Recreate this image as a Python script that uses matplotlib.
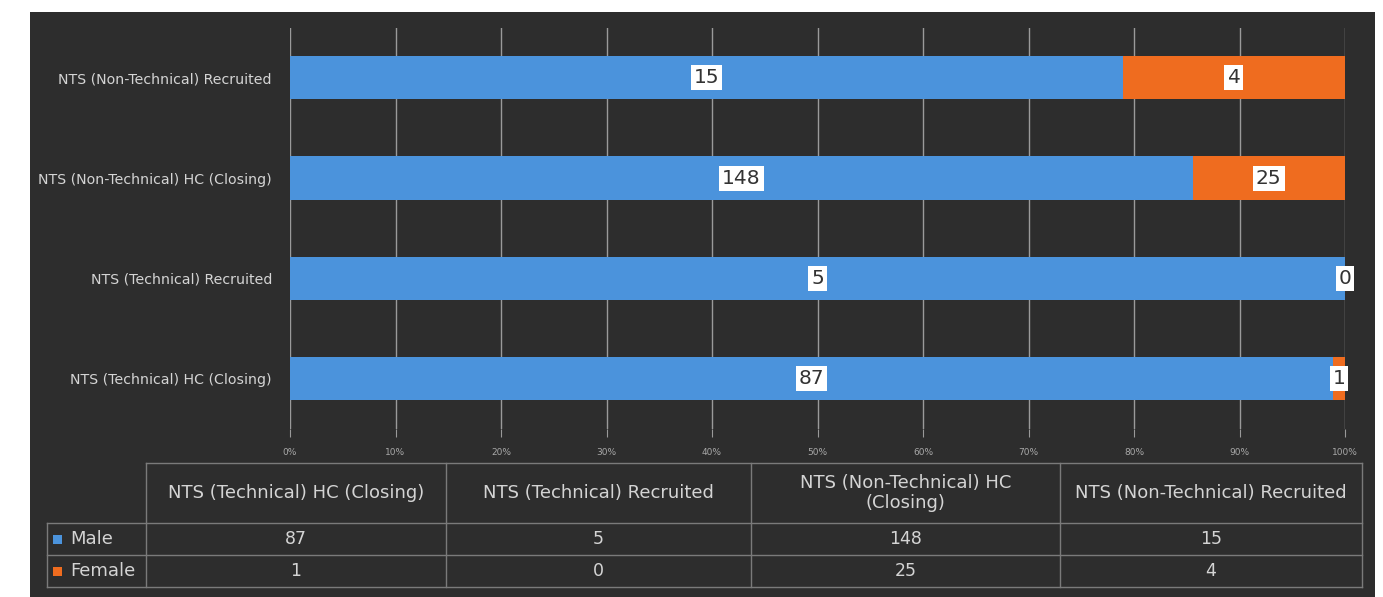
import numpy as np
import matplotlib
matplotlib.use("Agg")
import matplotlib.pyplot as plt
from matplotlib.patches import Rectangle


# ============================================================
# Data
# ============================================================

categories = [
    "NTS (Technical) HC (Closing)",
    "NTS (Technical) Recruited",
    "NTS (Non-Technical) HC (Closing)",
    "NTS (Non-Technical) Recruited",
]
table_headers = [
    "NTS (Technical) HC (Closing)",
    "NTS (Technical) Recruited",
    "NTS (Non-Technical) HC\n(Closing)",
    "NTS (Non-Technical) Recruited",
]
male = [87, 5, 148, 15]
female = [1, 0, 25, 4]
series_names = ["Male", "Female"]
x_ticks = [0, 10, 20, 30, 40, 50, 60, 70, 80, 90, 100]


# ============================================================
# Style
# ============================================================

W, H = 1383, 597
BG = "#2d2d2d"
BLUE = "#4b93dc"
ORANGE = "#ef6c1f"
GRID = "#9a9a9a"
TXT = "#d4d4d4"
LINE = "#7a7a7a"

plt.rcParams["font.family"] = ["DejaVu Sans"]


def fx(px):
    return px / W


def fy(py):
    return 1 - py / H


fig = plt.figure(figsize=(W / 100, H / 100), dpi=100, facecolor="white")

# dark board background
fig.patches.append(Rectangle((fx(30), 0), fx(1375) - fx(30), fy(12),
                             transform=fig.transFigure, facecolor=BG,
                             edgecolor="none", zorder=-10))


# ============================================================
# Stacked 100% bars
# ============================================================

male_arr = np.array(male, dtype=float)
female_arr = np.array(female, dtype=float)
total = male_arr + female_arr
male_pct = male_arr / total * 100
female_pct = female_arr / total * 100

left, right = 290, 1345
top, bottom = 27.5, 429
ax = fig.add_axes([fx(left), fy(bottom), fx(right) - fx(left), fy(top) - fy(bottom)])
ax.set_facecolor("none")

y = np.arange(len(categories))
ax.barh(y, male_pct, height=0.43, color=BLUE, zorder=2)
ax.barh(y, female_pct, left=male_pct, height=0.43, color=ORANGE, zorder=2)

box = dict(boxstyle="square,pad=0.15", facecolor="white", edgecolor="none")
for i in range(len(categories)):
    ax.text(male_pct[i] / 2, y[i], str(male[i]), ha="center", va="center",
            fontsize=14.5, color="#333333", bbox=box, zorder=3)
    ax.text(male_pct[i] + female_pct[i] / 2, y[i], str(female[i]), ha="center",
            va="center", fontsize=14.5, color="#333333", bbox=box, zorder=3)

ax.set_xlim(0, 100)
ax.set_ylim(-0.5, len(categories) - 0.5)
ax.set_xticks(x_ticks)
ax.set_xticklabels([f"{t}%" for t in x_ticks], fontsize=6.5, color="#a8a8a8")
ax.set_yticks(y)
ax.set_yticklabels(categories, fontsize=10.2, color=TXT)
ax.tick_params(axis="y", length=0, pad=13)
ax.tick_params(axis="x", length=6, color=GRID, pad=8)
ax.grid(axis="x", color=GRID, linewidth=1, zorder=1)
ax.set_axisbelow(True)
for s in ax.spines.values():
    s.set_visible(False)


# ============================================================
# Data table under the chart
# ============================================================

tb = fig.add_axes([0, 0, 1, 1])
tb.set_xlim(0, W)
tb.set_ylim(H, 0)
tb.axis("off")
tb.patch.set_visible(False)

col_edges = [146, 446, 751, 1060, 1362]
leg_left = 47
row_edges = [463, 523, 555, 587]

# lines
tb.plot([col_edges[0], col_edges[-1]], [row_edges[0]] * 2, color=LINE, lw=1)
for r in row_edges[1:]:
    tb.plot([leg_left, col_edges[-1]], [r, r], color=LINE, lw=1)
for c in col_edges:
    tb.plot([c, c], [row_edges[0], row_edges[-1]], color=LINE, lw=1)
tb.plot([leg_left, leg_left], [row_edges[1], row_edges[-1]], color=LINE, lw=1)

# header
for j, h in enumerate(table_headers):
    cx = (col_edges[j] + col_edges[j + 1]) / 2
    tb.text(cx, (row_edges[0] + row_edges[1]) / 2, h, ha="center", va="center",
            fontsize=13, color=TXT, linespacing=1.1)

# rows
for k, (name, vals, col) in enumerate(zip(series_names, [male, female], [BLUE, ORANGE])):
    cy = (row_edges[k + 1] + row_edges[k + 2]) / 2
    tb.add_patch(Rectangle((53, cy - 4.5), 9, 9, facecolor=col, edgecolor="none"))
    tb.text(70, cy, name, ha="left", va="center", fontsize=13, color=TXT)
    for j, v in enumerate(vals):
        cx = (col_edges[j] + col_edges[j + 1]) / 2
        tb.text(cx, cy, str(v), ha="center", va="center", fontsize=12.5, color=TXT)

fig.savefig("out.png", dpi=100, facecolor=fig.get_facecolor())
